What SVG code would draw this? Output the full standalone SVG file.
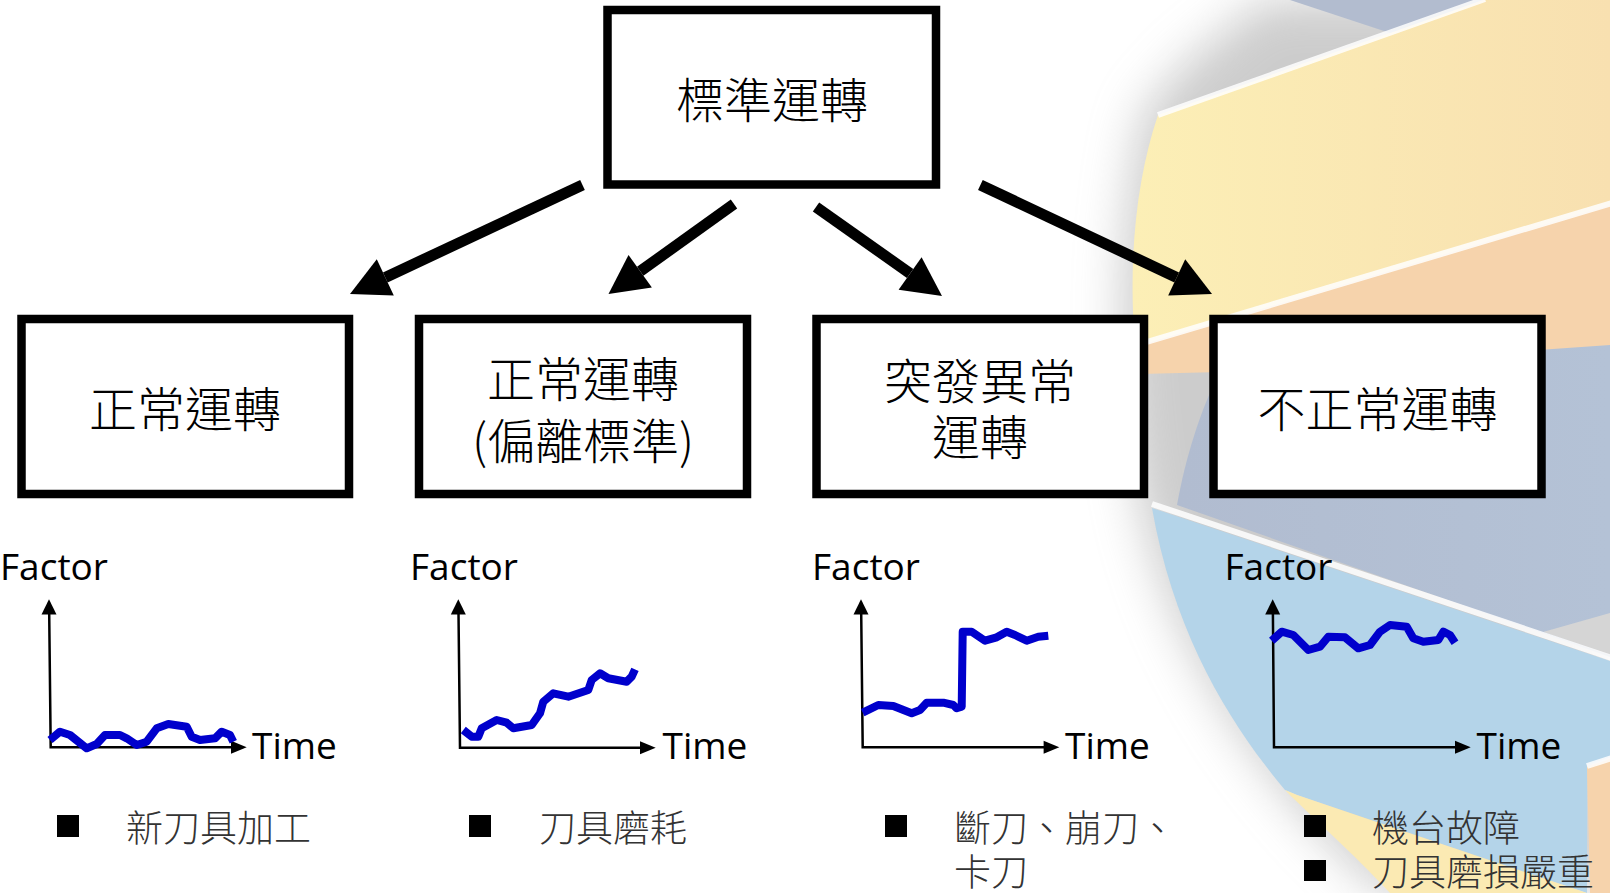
<svg xmlns="http://www.w3.org/2000/svg" width="1610" height="893" viewBox="0 0 1610 893">
<defs>
<style>
.box{fill:#fff;stroke:#000;stroke-width:8.5}
.cjk{font-family:"Noto Sans CJK TC","Noto Sans CJK SC",sans-serif;font-weight:300}
.btxt{font-size:48px;fill:#000;text-anchor:middle}
.ltxt{font-size:37px;fill:#333}
.lat{font-family:"Open Sans","Liberation Sans",sans-serif;font-size:37px;fill:#000}
.ax{fill:none;stroke:#000;stroke-width:2.5}
.curve{fill:none;stroke:#0000cc;stroke-width:8;stroke-linejoin:round;stroke-linecap:butt}
.conn{stroke:#000;stroke-width:11;fill:none}
.stripe{stroke:#fff;stroke-width:6;opacity:0.85}
</style>
<linearGradient id="yel" gradientUnits="userSpaceOnUse" x1="1130" y1="0" x2="1610" y2="0">
<stop offset="0" stop-color="#fcefb6"/><stop offset="1" stop-color="#f8e0b0"/>
</linearGradient>
<linearGradient id="gb" gradientUnits="userSpaceOnUse" x1="1180" y1="0" x2="1610" y2="0">
<stop offset="0" stop-color="#b1bcd0"/><stop offset="1" stop-color="#b4c2d6"/>
</linearGradient>
<filter id="blur" x="-50%" y="-50%" width="200%" height="200%"><feGaussianBlur stdDeviation="24"/></filter>
</defs>
<g id="background">
<rect width="1610" height="893" fill="#fff"/>
<path d="M1265,0 L1610,0 L1610,893 L1385,893 C1265,790 1170,650 1140,500 C1118,380 1115,230 1145,110 L1190,60 Z" fill="#9a9a9a" opacity="0.5" filter="url(#blur)"/>
<path d="M1158,115 L1483,0 L1610,0 L1610,205 L1135,347 C1128,260 1136,180 1158,115 Z" fill="url(#yel)"/>
<polygon points="1290,0 1483,0 1390,33" fill="#b2bccf"/>
<path d="M1135,347 L1610,205 L1610,350 L1220,372 L1140,374 Z" fill="#f6d3ac"/>
<path d="M1177,505 C1185,460 1200,410 1220,372 L1610,345 L1610,657 Z" fill="url(#gb)"/>
<polygon points="1543,632 1610,613 1610,655" fill="#d5d5d5"/>
<path d="M1152,508 L1610,661 L1610,757 L1587,765 L1587,893 L1297,795 L1285,790 C1235,730 1175,640 1152,508 Z" fill="#b4d4e9"/>
<path d="M1285,790 L1297,795 L1587,893 L1390,893 C1350,850 1315,820 1285,790 Z" fill="#fbeab3"/>
<polygon points="1587,767 1610,759 1610,893 1590,893" fill="#f6d3ac"/>
<line x1="1158" y1="115" x2="1485" y2="-1" class="stripe"/>
<line x1="1140" y1="344" x2="1612" y2="203" class="stripe"/>
<line x1="1152" y1="504" x2="1612" y2="658" class="stripe"/>
<line x1="1587" y1="766" x2="1612" y2="758" class="stripe"/>
</g>
<g id="connectors">
<line class="conn" x1="582.5" y1="185" x2="385.3" y2="277.4"/>
<polygon points="350,294 393.8,295.5 376.8,259.3"/>
<line class="conn" x1="734" y1="204" x2="640.2" y2="271.3"/>
<polygon points="608.5,294 651.9,287.6 628.5,255"/>
<line class="conn" x1="816" y1="207" x2="910.1" y2="273.5"/>
<polygon points="942,296 898.6,289.8 921.6,257.2"/>
<line class="conn" x1="980.4" y1="185" x2="1176.7" y2="277.4"/>
<polygon points="1212,294 1168.2,295.5 1185.2,259.3"/>
</g>
<g id="node-top">
<rect class="box" x="607.5" y="10" width="328.5" height="174.5"/>
<text class="cjk btxt" x="772" y="118">標準運轉</text>
</g>
<g id="node-normal">
<rect class="box" x="21.5" y="319" width="327.5" height="175"/>
<text class="cjk btxt" x="185" y="427">正常運轉</text>
</g>
<g id="node-deviate">
<rect class="box" x="419" y="319" width="328" height="175"/>
<text class="cjk btxt" x="583" y="397">正常運轉</text>
<text class="cjk btxt" x="583" y="459">(偏離標準)</text>
</g>
<g id="node-sudden">
<rect class="box" x="816.5" y="319" width="327.5" height="175"/>
<text class="cjk btxt" x="980" y="399">突發異常</text>
<text class="cjk btxt" x="980" y="455">運轉</text>
</g>
<g id="node-abnormal">
<rect class="box" x="1213.5" y="319" width="328" height="175"/>
<text class="cjk btxt" x="1377.5" y="427">不正常運轉</text>
</g>
<g id="chart-1">
<text class="lat" x="0" y="580">Factor</text>
<path class="ax" d="M49.2,613 L50.7,747.3 L232,747.3"/>
<polygon points="49,599.3 41.5,614.5 56.5,614.5"/>
<polygon points="246.7,747.3 231,740.8 231,753.8"/>
<text class="lat" x="252" y="759">Time</text>
<polyline class="curve" points="50,740 60,731.7 70,735 86.7,748.3 96.7,744 105,735 120,735 126.7,738.3 136.7,745 146.7,741.7 156.7,728.3 168.3,724 186.7,726.7 191.7,736.7 200,740 215,738.3 221.7,731.7 230,735 233.3,741.7"/>
<rect x="57" y="815" width="22" height="22"/>
<text class="cjk ltxt" x="126" y="842">新刀具加工</text>
</g>
<g id="chart-2">
<text class="lat" x="410" y="580">Factor</text>
<path class="ax" d="M458.5,613 L460,747.7 L641,747.7"/>
<polygon points="458.3,599.3 450.8,614.5 465.8,614.5"/>
<polygon points="655.7,747.7 640,741.2 640,754.2"/>
<text class="lat" x="662.5" y="759">Time</text>
<polyline class="curve" points="463.3,730 471.7,736.7 478.3,736.7 481.7,728.3 496.7,720 506.7,722.7 513.3,728.3 531.7,725 540,713.3 543.3,701.7 553.3,693.3 568.3,696.7 588.3,690 591.7,680 600,673.3 608.3,678.3 626.7,681.7 631.7,676.7 635,669.3"/>
<rect x="469" y="815" width="22" height="22"/>
<text class="cjk ltxt" x="539" y="842">刀具磨耗</text>
</g>
<g id="chart-3">
<text class="lat" x="812" y="580">Factor</text>
<path class="ax" d="M861.2,613 L862.7,747.3 L1044,747.3"/>
<polygon points="861,599.3 853.5,614.5 868.5,614.5"/>
<polygon points="1059.3,747.3 1043.6,740.8 1043.6,753.8"/>
<text class="lat" x="1065" y="759">Time</text>
<polyline class="curve" points="862.7,712.7 878.3,705 893.3,706 911.7,713.3 920,710 926.7,702.7 943.3,702.7 953.3,705 956.7,708.3 961.7,706.7 962.7,631.7 971.7,631.7 985,640.7 996.7,637.3 1006.7,631.7 1015,635 1026.7,640.7 1038.3,636.7 1048.3,635.7"/>
<rect x="885" y="815" width="22" height="22"/>
<text class="cjk ltxt" x="954" y="842">斷刀、崩刀、</text>
<text class="cjk ltxt" x="954" y="886">卡刀</text>
</g>
<g id="chart-4">
<text class="lat" x="1224.5" y="580">Factor</text>
<path class="ax" d="M1272.9,613 L1274,747.3 L1455,747.3"/>
<polygon points="1272.7,599.3 1265.2,614.5 1280.2,614.5"/>
<polygon points="1470.7,747.3 1455,740.8 1455,753.8"/>
<text class="lat" x="1476.5" y="759">Time</text>
<polyline class="curve" points="1271.7,640.7 1281.7,631.7 1293.3,635 1308.3,650 1320,646.7 1328.3,636.7 1345,637.3 1358.3,648.3 1370,645 1380,631.7 1390,625 1406.7,626.7 1413.3,638.3 1423.3,641.7 1438.3,640 1443.3,631.7 1450,635 1455,642.7"/>
<rect x="1304" y="815" width="22" height="22"/>
<rect x="1304" y="860" width="22" height="21"/>
<text class="cjk ltxt" x="1372" y="842">機台故障</text>
<text class="cjk ltxt" x="1372" y="886">刀具磨損嚴重</text>
</g>
</svg>
